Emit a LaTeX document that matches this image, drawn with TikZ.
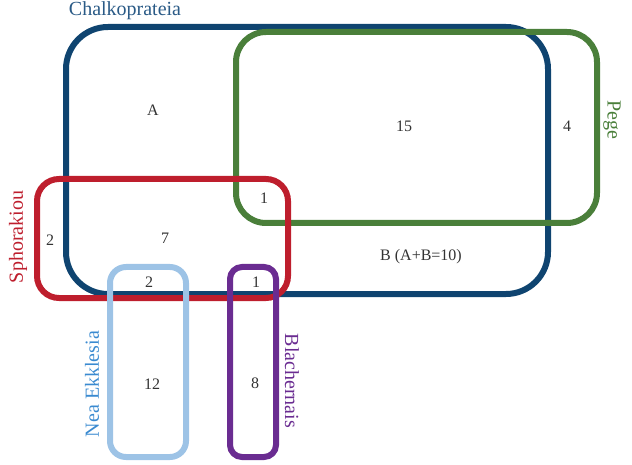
\documentclass[tikz,border=0pt]{standalone}
\usepackage{fontspec}
\setmainfont{Liberation Serif}
\definecolor{chalkblue}{HTML}{0F4470}
\definecolor{chalktext}{HTML}{2A5A86}
\definecolor{pegegreen}{HTML}{4A7F3A}
\definecolor{sphored}{HTML}{BE1E2D}
\definecolor{nealight}{HTML}{9DC3E6}
\definecolor{neatext}{HTML}{3A8AD0}
\definecolor{blachpurple}{HTML}{6A2C91}
\definecolor{numgray}{HTML}{333333}
\tikzset{
  area/.style={line width=6pt, rounded corners=#1},
  count/.style={text=numgray, font=\fontsize{16}{18}\selectfont},
  church/.style={font=\fontsize{20}{22}\selectfont},
}
\begin{document}
\begin{tikzpicture}[x=1pt,y=-1pt]
      \useasboundingbox (0,0) rectangle (632,465);
      \coordinate (C1) at (66,27);
      \coordinate (C2) at (548,294);
      \coordinate (P1) at (236,32);
      \coordinate (P2) at (597,223);
      \coordinate (S1) at (37,179);
      \coordinate (S2) at (288,298);
      \coordinate (N1) at (110,267);
      \coordinate (N2) at (186,457);
      \coordinate (B1) at (230,267);
      \coordinate (B2) at (276,457);
      \draw[area=42pt, chalkblue] (C1) rectangle (C2);
      \draw[area=30pt, pegegreen] (P1) rectangle (P2);
      \draw[area=22pt, sphored] (S1) rectangle (S2);
      \draw[area=16pt, nealight] (N1) rectangle (N2);
      \draw[area=12pt, blachpurple] (B1) rectangle (B2);
      \node[church, text=chalktext] (chalk) at (125,11) {Chalkoprateia};
      \node[church, text=pegegreen, rotate=-90] (pege) at (612,120) {Pege};
      \node[church, text=sphored, rotate=90] (spho) at (18,237) {Sphorakiou};
      \node[church, text=neatext, rotate=90] (nea) at (92,384) {Nea Ekklesia};
      \node[church, text=blachpurple, rotate=-90] (blach) at (292,381) {Blachernais};
      \node[count] (a) at (153,110) {A};
      \node[count] (cp) at (404,126) {15};
      \node[count] (p) at (567,126) {4};
      \node[count] (csp) at (264,198) {1};
      \node[count] (s) at (50,240) {2};
      \node[count] (cs) at (165,238) {7};
      \node[count] (b) at (421,257) {B (A+B=10)};
      \node[count] (csn) at (149,282) {2};
      \node[count] (csb) at (256,282) {1};
      \node[count] (n) at (152,384) {12};
      \node[count] (bl) at (255,383) {8};
    \end{tikzpicture}
\end{document}
